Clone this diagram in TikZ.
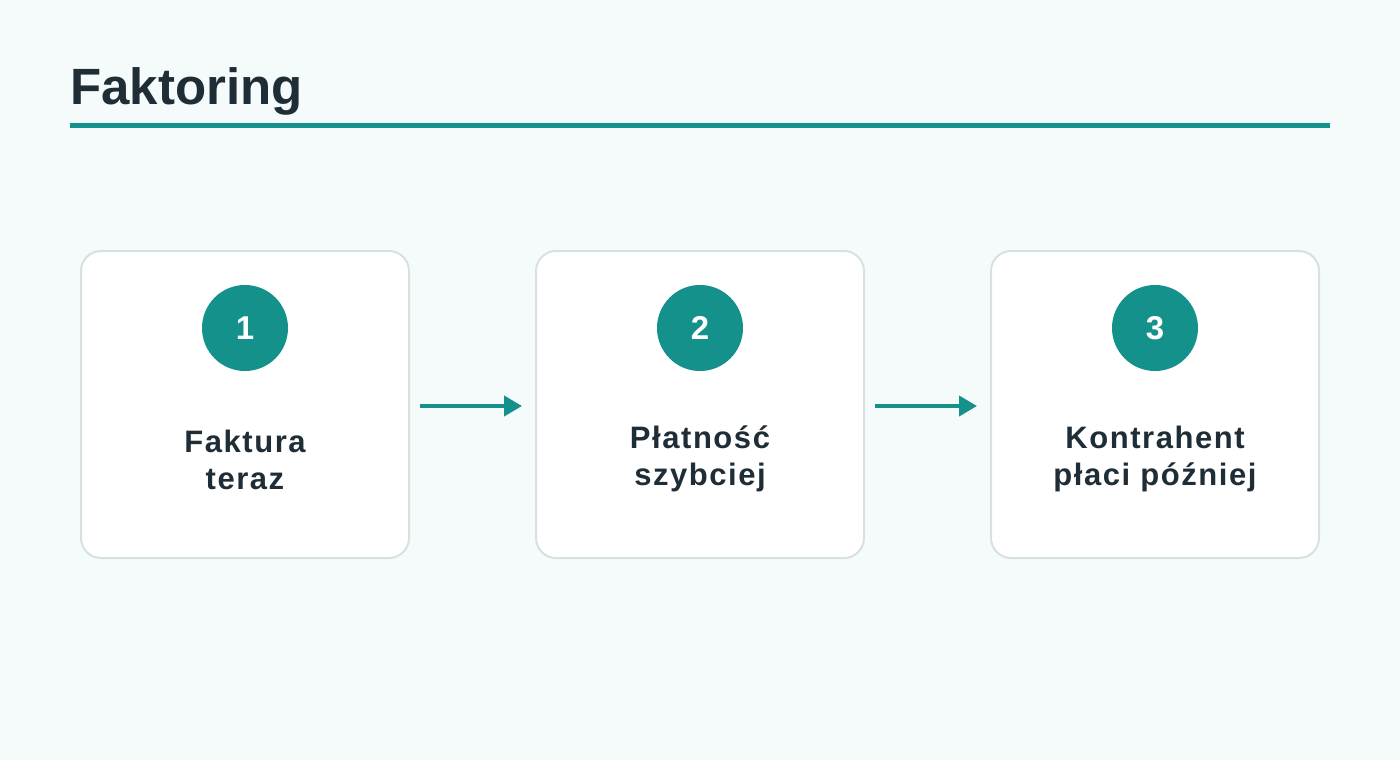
\documentclass[tikz,border=0pt]{standalone}
\usepackage{fontspec}
\setmainfont{Liberation Sans}
\newfontfamily\spacedsans[LetterSpace=5]{Liberation Sans}
\usetikzlibrary{arrows.meta}
\definecolor{bg}{HTML}{F5FBFB}
\definecolor{teal}{HTML}{14918B}
\definecolor{ink}{HTML}{1F2D36}
\definecolor{boxline}{HTML}{D8E1E2}
\begin{document}
\begin{tikzpicture}[x=1pt,y=-1pt,
  stepcard/.style={draw=boxline,line width=2pt,fill=white,rounded corners=20pt,minimum width=328pt,minimum height=307pt,outer sep=0pt,inner sep=0pt},
  numdot/.style={circle,fill=teal,minimum size=86pt,inner sep=0pt,text=white,font=\fontsize{33}{33}\selectfont\bfseries},
  steptext/.style={text=ink,font=\spacedsans\fontsize{31}{37}\selectfont\bfseries,align=center},
  flow/.style={draw=teal,line width=4pt,-{Triangle[length=18pt,width=20pt]}}]
\fill[bg] (0,0) rectangle (1400,760);
\useasboundingbox (0,0) rectangle (1400,760);
\node[anchor=base west,text=ink,font=\fontsize{51}{51}\selectfont\bfseries,inner sep=0pt] (title) at (70,104) {Faktoring};
\coordinate (rl) at (70,125);
\coordinate (rr) at (1330,125);
\draw[teal,line width=5pt] (rl) -- (rr);
\node[stepcard] (b1) at (245,404.5) {};
\node[stepcard] (b2) at (700,404.5) {};
\node[stepcard] (b3) at (1155,404.5) {};
\node[numdot] (n1) at (245,328) {1};
\node[numdot] (n2) at (700,328) {2};
\node[numdot] (n3) at (1155,328) {3};
\node[steptext] (t1) at (245,460) {Faktura\\teraz};
\node[steptext] (t2) at (700,459) {Płatność\\szybciej};
\node[steptext] (t3) at (1155,459) {Kontrahent\\płaci później};
\draw[flow] ([xshift=11pt,yshift=-1.5pt]b1.east) -- ([xshift=-14pt,yshift=-1.5pt]b2.west);
\draw[flow] ([xshift=11pt,yshift=-1.5pt]b2.east) -- ([xshift=-14pt,yshift=-1.5pt]b3.west);
\end{tikzpicture}
\end{document}
